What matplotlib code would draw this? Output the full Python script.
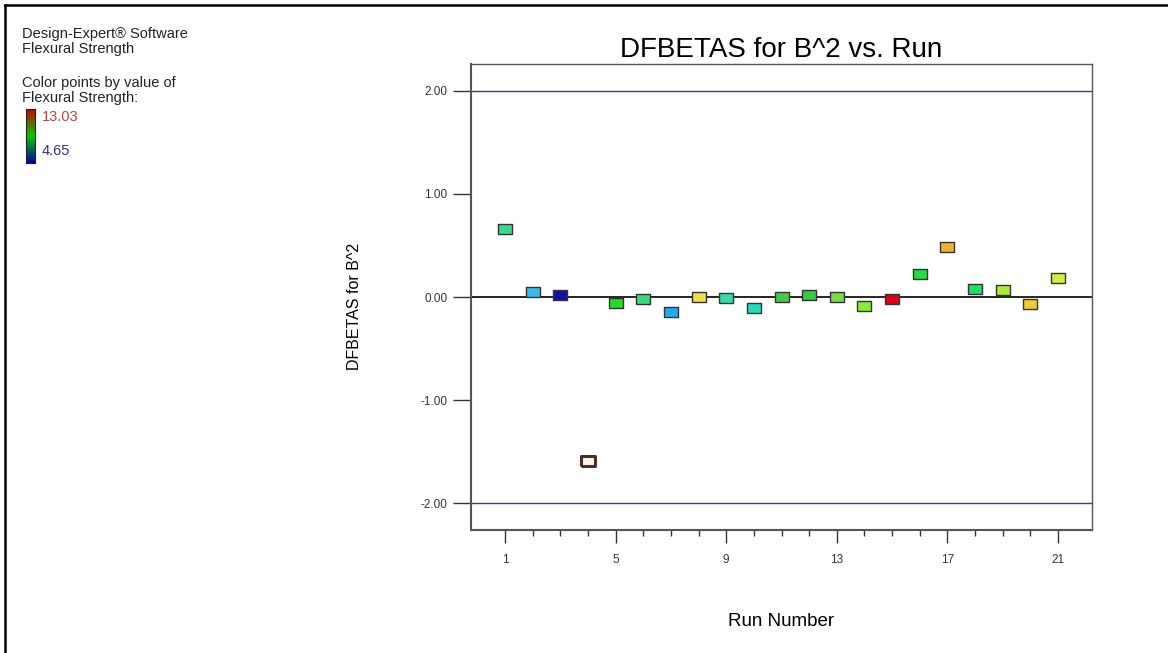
import matplotlib
matplotlib.use("Agg")
import matplotlib.pyplot as plt
import numpy as np
from matplotlib.colors import LinearSegmentedColormap
from matplotlib.lines import Line2D

plt.rcParams['font.family'] = ['Liberation Sans', 'DejaVu Sans']

# --- data ---
runs = list(range(1, 22))
dfbetas = [0.66, 0.05, 0.02, -1.59, -0.06, -0.02, -0.15, 0.00, -0.01, -0.11,
           0.00, 0.02, 0.00, -0.09, -0.02, 0.22, 0.49, 0.08, 0.07, -0.07, 0.18]
point_colors = ['#33dd88', '#33bbee', '#1111aa', '#fdf5e6', '#22dd22', '#33dd77',
                '#22aaee', '#eedd44', '#33ddaa', '#22ddbb', '#44cc44', '#33cc44',
                '#77dd44', '#88ee33', '#dd0011', '#22dd44', '#f0b030', '#22dd66',
                '#aaee33', '#f0cc30', '#ccee44']
selected_run = 4
x_major = [1, 5, 9, 13, 17, 21]
y_major = [-2.0, -1.0, 0.0, 1.0, 2.0]
limit = 2.0
color_max, color_min = 13.03, 4.65

W, H = 1168, 653
fig = plt.figure(figsize=(W / 100, H / 100), dpi=100)
ax = fig.add_axes([471 / W, 1 - 530 / H, 621 / W, 466 / H])

# wide rectangular marker
rect = [(-1, -0.75), (1, -0.75), (1, 0.75), (-1, 0.75), (-1, -0.75)]

ax.axhline(limit, color='#3a3a80', lw=1, zorder=1)
ax.axhline(-limit, color='#3a3a80', lw=1, zorder=1)
ax.axhline(0, color='black', lw=1.2, zorder=1)

for r, v, c in zip(runs, dfbetas, point_colors):
    if r == selected_run:
        ax.plot(r, v, marker=rect, ms=10, mfc=c, mec='#4a3028', mew=2.2,
                ls='none', zorder=3)
    else:
        ax.plot(r, v, marker=rect, ms=9.5, mfc=c, mec='#333333', mew=1,
                ls='none', zorder=3)

ax.set_xlim(-0.23, 22.23)
ax.set_ylim(-2.262, 2.262)

ax.set_xticks(x_major)
ax.set_xticks(runs, minor=True)
ax.set_yticks(y_major)
ax.set_yticklabels([f"{v:.2f}" for v in y_major])

ax.tick_params(axis='x', which='major', direction='out', length=9, width=1,
               labelsize=8.5, colors='#333333', pad=8)
ax.tick_params(axis='x', which='minor', direction='out', length=4, width=1,
               colors='#333333')
ax.tick_params(axis='y', which='major', direction='out', length=13, width=1,
               labelsize=8.5, colors='#333333', pad=4)

for s in ax.spines.values():
    s.set_color('#555555')
    s.set_linewidth(1)
ax.spines['left'].set_linewidth(1.5)
ax.spines['bottom'].set_linewidth(1.5)

ax.set_title("DFBETAS for B^2 vs. Run", fontsize=20, pad=5)
ax.set_ylabel("DFBETAS for B^2", fontsize=11.5)
ax.yaxis.set_label_coords(-0.175, 0.48)
ax.set_xlabel("Run Number", fontsize=13.5, labelpad=34)

# header text
hdr = dict(fontsize=10.5, va='center', color='#222222')
fig.text(22 / W, 1 - 34 / H, "Design-Expert® Software", **hdr)
fig.text(22 / W, 1 - 49 / H, "Flexural Strength", **hdr)
fig.text(22 / W, 1 - 83 / H, "Color points by value of", **hdr)
fig.text(22 / W, 1 - 98 / H, "Flexural Strength:", **hdr)

# small color legend
cax = fig.add_axes([26 / W, 1 - 163 / H, 9 / W, 54 / H])
cmap = LinearSegmentedColormap.from_list('flex', ['#0000aa', '#00cc00', '#cc0000'])
cax.imshow(np.linspace(0, 1, 100)[::-1].reshape(-1, 1), aspect='auto', cmap=cmap)
cax.set_xticks([])
cax.set_yticks([])
for s in cax.spines.values():
    s.set_color('#222222')
    s.set_linewidth(0.8)
fig.text(42 / W, 1 - 117 / H, f"{color_max:.2f}", fontsize=10.5,
         va='center', color='#b04848')
fig.text(42 / W, 1 - 151 / H, f"{color_min:.2f}", fontsize=10.5,
         va='center', color='#333388')

# frame edges along the left and top
fig.add_artist(Line2D([5 / W, 5 / W], [0, 1 - 5 / H], transform=fig.transFigure,
                      color='black', lw=1.8))
fig.add_artist(Line2D([5 / W, 1], [1 - 5 / H, 1 - 5 / H], transform=fig.transFigure,
                      color='black', lw=1.8))

fig.savefig("out.png", dpi=100)
